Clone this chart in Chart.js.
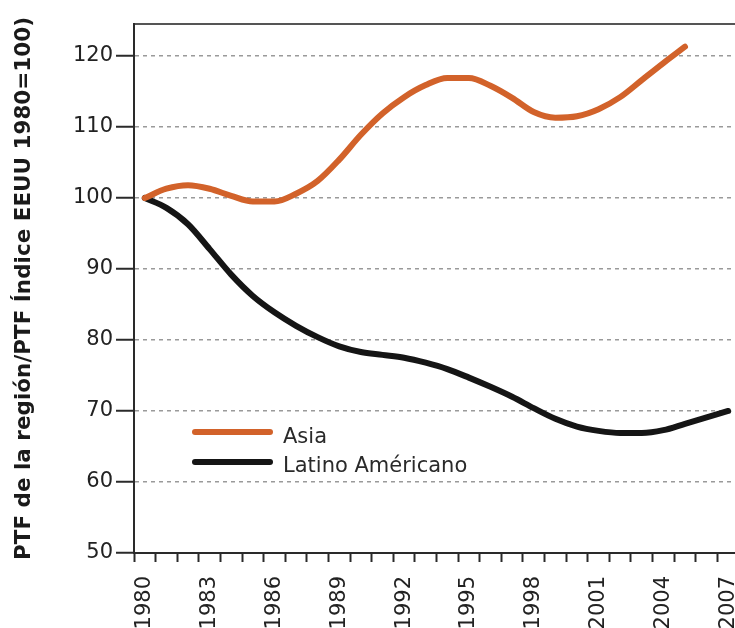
<!DOCTYPE html>
<html>
<head>
<meta charset="utf-8">
<script src="https://cdn.jsdelivr.net/npm/chart.js@4.4.0/dist/chart.umd.min.js"></script>
<style>
  html, body { margin: 0; padding: 0; background: #fff; overflow: hidden; }
  #wrap { width: 739px; height: 628px; }
</style>
</head>
<body>
<div id="wrap"><canvas id="myChart" width="739" height="628"></canvas></div>
<script>
var years = ["1980", "1981", "1982", "1983", "1984", "1985", "1986", "1987", "1988", "1989",
  "1990", "1991", "1992", "1993", "1994", "1995", "1996", "1997", "1998", "1999",
  "2000", "2001", "2002", "2003", "2004", "2005", "2006", "2007"];

var asia = [100, 101.3, 101.8, 101.3, 100.3, 99.5, 99.5, 100.6, 102.4, 105.4,
  108.9, 111.9, 114.2, 115.9, 116.9, 116.9, 115.8, 114.1, 112.1, 111.3,
  111.5, 112.5, 114.2, 116.6, 119, 121.3];

var latino = [100, 98.6, 96.3, 92.8, 89.2, 86.2, 83.9, 82.0, 80.4, 79.1,
  78.3, 77.9, 77.5, 76.8, 75.9, 74.7, 73.4, 72.0, 70.4, 68.9,
  67.8, 67.2, 66.9, 66.9, 67.3, 68.2, 69.1, 70.0];

var seriesNames = ["Asia", "Latino Américano"];
var seriesColors = ["#d2622a", "#151515"];
var yTitle = "PTF de la región/PTF Índice EEUU 1980=100)";

var tickFont = { family: "DejaVu Sans", size: 21 };

// legend drawn inside the plot, lower left
var insideLegend = {
  id: "insideLegend",
  afterDatasetsDraw(chart) {
    const ctx = chart.ctx;
    const rows = [{ y: 432, base: 443 }, { y: 462, base: 472 }];
    chart.data.datasets.forEach((ds, i) => {
      ctx.save();
      ctx.strokeStyle = ds.borderColor;
      ctx.lineWidth = 6;
      ctx.lineCap = "round";
      ctx.beginPath();
      ctx.moveTo(195, rows[i].y);
      ctx.lineTo(270, rows[i].y);
      ctx.stroke();
      ctx.fillStyle = "#2a2a2a";
      ctx.font = "21px 'DejaVu Sans'";
      ctx.textBaseline = "alphabetic";
      ctx.fillText(ds.label, 283, rows[i].base);
      ctx.restore();
    });
  }
};

function noPad(s) {
  s.paddingLeft = 0;
  s.paddingRight = 0;
  s.paddingTop = 0;
  s.paddingBottom = 0;
}

const ctx = document.getElementById("myChart");
new Chart(ctx, {
  type: "line",
  data: {
    labels: years,
    datasets: [
      {
        label: seriesNames[0],
        data: asia,
        borderColor: seriesColors[0],
        backgroundColor: seriesColors[0],
        borderWidth: 6,
        pointRadius: 0,
        fill: false,
        cubicInterpolationMode: "monotone",
        borderCapStyle: "round"
      },
      {
        label: seriesNames[1],
        data: latino,
        borderColor: seriesColors[1],
        backgroundColor: seriesColors[1],
        borderWidth: 6,
        pointRadius: 0,
        fill: false,
        cubicInterpolationMode: "monotone",
        borderCapStyle: "round"
      }
    ]
  },
  options: {
    responsive: false,
    animation: false,
    layout: { padding: 0 },
    plugins: {
      legend: { display: false },
      tooltip: { enabled: false }
    },
    scales: {
      x: {
        type: "category",
        position: "bottom",
        offset: true,
        grid: {
          offset: true,
          drawOnChartArea: false,
          drawTicks: true,
          tickLength: 9,
          tickColor: "#2a2a2a",
          tickWidth: 2
        },
        border: { color: "#2a2a2a", width: 2 },
        ticks: {
          autoSkip: false,
          minRotation: 90,
          maxRotation: 90,
          padding: 14,
          color: "#222",
          font: tickFont,
          callback: function (v, i) {
            return i % 3 === 0 ? years[i] : "";
          }
        },
        afterFit: function (s) { s.height = 75; noPad(s); }
      },
      xTop: {
        type: "category",
        position: "top",
        grid: { display: false, drawTicks: false },
        ticks: { display: false },
        border: { display: true, color: "#555", width: 2 },
        afterFit: function (s) { s.height = 24; noPad(s); }
      },
      y: {
        min: 50,
        max: 124.5,
        grid: {
          color: "#9a9a9a",
          lineWidth: 1.5,
          tickLength: 18,
          tickColor: "#2a2a2a",
          tickWidth: 2,
          tickBorderDash: []
        },
        border: { color: "#2a2a2a", width: 2, dash: [4, 4] },
        ticks: {
          stepSize: 10,
          includeBounds: false,
          padding: 3,
          color: "#222",
          font: tickFont
        },
        title: {
          display: true,
          text: yTitle,
          color: "#1a1a1a",
          font: { family: "DejaVu Sans", size: 21.5, weight: "bold" },
          padding: { top: 12, bottom: 0 }
        },
        afterFit: function (s) { s.width = 134; noPad(s); }
      }
    }
  },
  plugins: [insideLegend]
});
</script>
</body>
</html>
